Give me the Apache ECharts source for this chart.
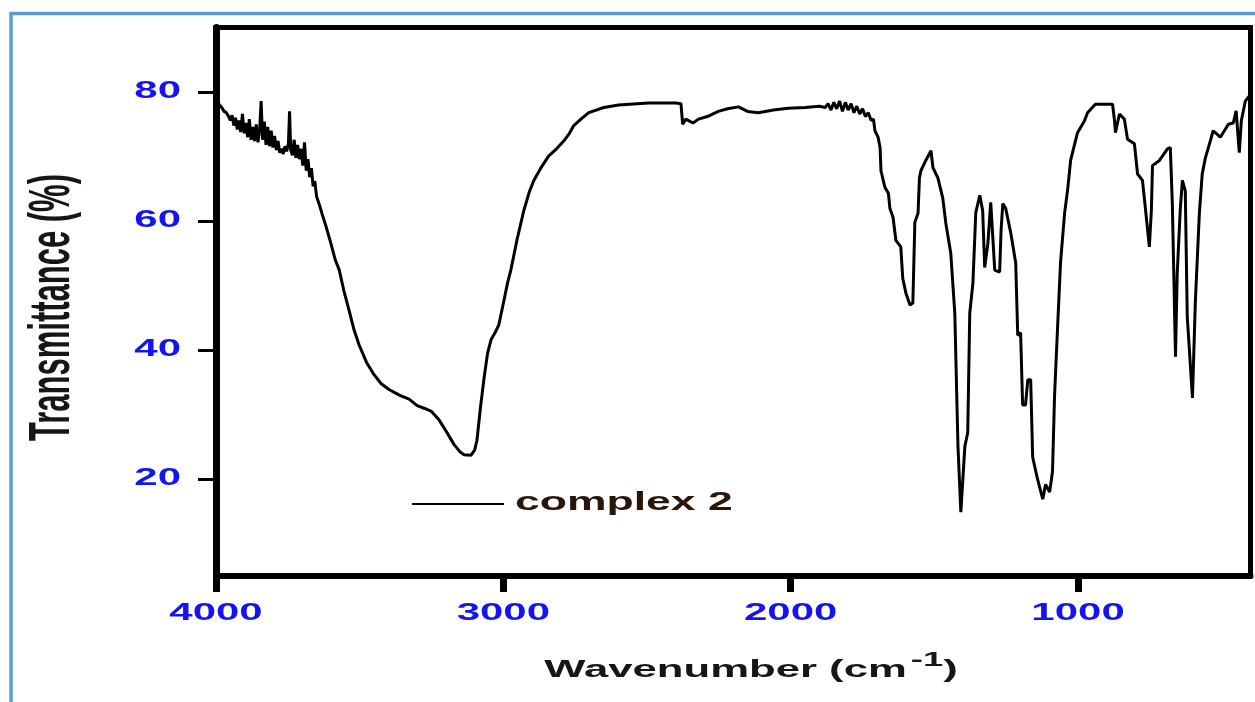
<!DOCTYPE html>
<html>
<head>
<meta charset="utf-8">
<title>IR spectrum – complex 2</title>
<script src="https://cdn.jsdelivr.net/npm/echarts@6/dist/echarts.min.js"></script>
<style>
  html, body { margin: 0; padding: 0; background: #fff; }
  #chart { width: 1255px; height: 702px; }
</style>
</head>
<body>
<div id="chart"></div>
<script>
// FT-IR spectrum of complex 2: wavenumber (cm-1) and transmittance (%)
const wavenumber = [
  3996, 3988, 3980, 3972, 3964, 3956, 3950, 3944, 3938, 3932, 3926, 3920, 3914, 3908, 3902, 3896,
  3890, 3884, 3878, 3872, 3866, 3860, 3854, 3848, 3843, 3838, 3832, 3826, 3820, 3814, 3808, 3802,
  3796, 3790, 3784, 3778, 3772, 3766, 3760, 3754, 3748, 3744, 3740, 3734, 3728, 3722, 3716, 3710,
  3704, 3698, 3692, 3686, 3680, 3674, 3668, 3662, 3656, 3650, 3640, 3630, 3616, 3600, 3585, 3571,
  3555, 3536, 3520, 3502, 3475, 3450, 3425, 3398, 3360, 3328, 3300, 3276, 3250, 3224, 3200, 3172,
  3150, 3137, 3113, 3100, 3092, 3080, 3068, 3055, 3043, 3030, 3016, 2998, 2985, 2974, 2953, 2929,
  2910, 2894, 2870, 2842, 2815, 2790, 2770, 2755, 2730, 2703, 2650, 2599, 2495, 2400, 2382, 2376,
  2365, 2340, 2321, 2290, 2252, 2220, 2182, 2150, 2113, 2060, 2009, 1950, 1900, 1880, 1870, 1860,
  1850, 1840, 1830, 1820, 1810, 1800, 1790, 1780, 1770, 1760, 1750, 1740, 1730, 1720, 1712, 1707,
  1696, 1689, 1686, 1672, 1660, 1655, 1644, 1634, 1617, 1610, 1599, 1585, 1575, 1568, 1557, 1552,
  1547, 1530, 1512, 1505, 1488, 1471, 1460, 1443, 1429, 1418, 1408, 1394, 1384, 1377, 1366, 1356,
  1342, 1332, 1325, 1314, 1304, 1290, 1273, 1268, 1262, 1252, 1234, 1217, 1210, 1200, 1193, 1183,
  1175, 1165, 1158, 1141, 1123, 1113, 1099, 1089, 1082, 1071, 1061, 1047, 1036, 1026, 1002, 978,
  967, 940, 880, 873, 870, 856, 839, 828, 804, 793, 776, 766, 752, 745, 741, 717,
  689, 679, 672, 661, 655, 644, 637, 627, 620, 602, 592, 578, 568, 557, 540, 530,
  505, 477, 460, 450, 439, 432, 418, 404
];
const transmittance = [
  78.6, 78.0, 77.6, 77.0, 76.8, 76.2, 75.6, 76.4, 74.8, 76.0, 74.2, 75.6, 73.8, 76.6, 73.6, 75.2,
  73.0, 75.8, 72.6, 74.6, 72.4, 75.0, 72.2, 74.2, 78.6, 72.6, 75.4, 71.8, 74.6, 71.6, 74.0, 71.4,
  73.2, 71.0, 72.4, 70.6, 71.2, 70.4, 71.6, 70.8, 72.0, 77.0, 71.0, 70.2, 72.6, 69.8, 71.8, 69.6,
  71.2, 68.6, 72.2, 67.8, 69.6, 66.8, 68.2, 65.4, 66.2, 63.8, 62.5, 61.0, 59.0, 56.5, 54.0, 52.4,
  49.2, 46.0, 43.2, 40.8, 38.0, 36.2, 34.8, 33.9, 33.0, 32.4, 31.4, 31.0, 30.5, 29.2, 27.5, 25.4,
  24.2, 23.8, 23.7, 24.5, 26.0, 31.0, 35.4, 39.5, 41.6, 42.6, 43.9, 47.7, 50.5, 52.4, 57.0, 61.6,
  64.5, 66.3, 68.2, 70.1, 71.2, 72.4, 73.6, 74.8, 75.8, 76.8, 77.6, 78.0, 78.3, 78.3, 78.2, 75.0,
  75.8, 75.2, 75.8, 76.2, 77.0, 77.4, 77.7, 77.0, 76.8, 77.2, 77.5, 77.6, 77.8, 77.6, 78.2, 77.2,
  78.4, 77.4, 78.6, 77.0, 78.4, 77.2, 78.2, 76.8, 77.8, 76.6, 77.4, 76.2, 76.8, 75.6, 75.8, 74.0,
  73.0, 71.4, 67.8, 65.2, 64.3, 62.0, 60.6, 57.0, 56.0, 51.1, 48.8, 47.0, 47.3, 59.8, 61.2, 66.7,
  67.8, 69.4, 70.9, 68.3, 66.7, 63.6, 59.6, 55.0, 45.7, 25.1, 14.9, 25.1, 27.2, 45.7, 50.4, 61.3,
  64.0, 61.6, 52.8, 56.5, 62.9, 52.4, 52.1, 58.5, 62.7, 62.0, 58.1, 53.5, 42.3, 42.7, 31.5, 31.5,
  35.4, 35.4, 23.4, 20.0, 16.9, 19.2, 18.0, 21.2, 32.8, 43.9, 53.6, 61.2, 65.0, 69.4, 73.7, 75.5,
  76.8, 78.1, 78.1, 75.5, 73.7, 76.6, 75.8, 72.7, 72.0, 67.3, 66.3, 62.1, 56.0, 61.6, 68.6, 69.4,
  71.2, 71.4, 62.7, 39.0, 51.9, 62.1, 66.3, 64.7, 45.1, 32.6, 47.4, 61.2, 67.3, 69.8, 72.4, 74.0,
  73.0, 75.0, 75.2, 77.1, 70.6, 75.5, 78.6, 79.4
];

const xTicks = [4000, 3000, 2000, 1000];
const yTicks = [20, 40, 60, 80];
const seriesName = 'complex 2';
const xTitle = ['Wavenumber (cm', '-1', ')'];
const yTitle = 'Transmittance (%)';

const FONT = '"Liberation Sans", Arial, Helvetica, sans-serif';
const TICK_BLUE = '#1414f2';
const STRETCH = 1.8;

const chart = echarts.init(document.getElementById('chart'), null, { renderer: 'canvas' });

const option = {
  backgroundColor: '#ffffff',
  animation: false,
  grid: {
    left: 216, right: 4.5, top: 27.5, bottom: 126,
    show: true, borderColor: '#000', borderWidth: 5, backgroundColor: 'transparent'
  },
  xAxis: {
    type: 'value', min: 400, max: 4000, inverse: true,
    axisLine: { show: true, onZero: false, lineStyle: { color: '#000', width: 6 } },
    axisTick: { show: true, customValues: xTicks, length: 16, lineStyle: { color: '#000', width: 7 } },
    axisLabel: { show: false },
    splitLine: { show: false }
  },
  yAxis: {
    type: 'value', min: 5, max: 90,
    axisLine: { show: true, onZero: false, lineStyle: { color: '#000', width: 7 } },
    axisTick: { show: true, customValues: yTicks, length: 18, lineStyle: { color: '#000', width: 3 } },
    axisLabel: { show: false },
    splitLine: { show: false }
  },
  series: [{
    name: seriesName,
    type: 'line',
    data: wavenumber.map((w, i) => [w, transmittance[i]]),
    symbol: 'none',
    showSymbol: false,
    lineStyle: { color: '#000', width: 3 },
    z: 3
  }]
};
chart.setOption(option);

// Stretched bold lettering for tick labels, titles and the legend
const measureCtx = document.createElement('canvas').getContext('2d');
function textWidth(str, size) {
  measureCtx.font = 'bold ' + size + 'px ' + FONT;
  return measureCtx.measureText(str).width;
}
function label(text, x, y, o) {
  const align = o.align || 'center';
  const valign = o.valign || 'middle';
  return {
    type: 'text', x: x, y: y, z: 20, silent: true,
    rotation: o.rotation || 0,
    scaleX: o.scaleX == null ? STRETCH : o.scaleX,
    scaleY: o.scaleY == null ? 1 : o.scaleY,
    style: {
      text: text, fill: o.color || '#111',
      font: 'bold ' + o.size + 'px ' + FONT,
      textAlign: align, textVerticalAlign: valign,
      align: align, verticalAlign: valign
    }
  };
}

const gridLeftPx = chart.convertToPixel({ xAxisIndex: 0 }, 4000);
const gridBottomPx = chart.convertToPixel({ yAxisIndex: 0 }, 5);
const graphics = [];

// page frame
graphics.push({
  type: 'rect', z: 0, silent: true,
  shape: { x: 11, y: 13.5, width: 1400, height: 900 },
  style: { fill: 'none', stroke: '#5b9bd5', lineWidth: 3.5 }
});

xTicks.forEach(v => {
  const px = chart.convertToPixel({ xAxisIndex: 0 }, v);
  graphics.push(label(String(v), px, gridBottomPx + 37, { size: 24, color: TICK_BLUE, scaleX: 1.75 }));
});
yTicks.forEach(v => {
  const py = chart.convertToPixel({ yAxisIndex: 0 }, v);
  graphics.push(label(String(v), gridLeftPx - 35, py - 1, { size: 24, color: TICK_BLUE, align: 'right', scaleX: 1.75 }));
});

// x-axis title with superscript
const TS = 1.82;
const wMain = textWidth(xTitle[0], 24) * TS;
const wSup = textWidth(xTitle[1], 20) * TS;
const wEnd = textWidth(xTitle[2], 24) * TS;
const gap = 4;
let tx = 751 - (wMain + gap + wSup + wEnd) / 2;
graphics.push(label(xTitle[0], tx, 670, { size: 24, align: 'left', scaleX: TS, color: '#161616' }));
tx += wMain + gap;
graphics.push(label(xTitle[1], tx, 660, { size: 20, align: 'left', scaleX: TS, color: '#161616' }));
tx += wSup;
graphics.push(label(xTitle[2], tx, 670, { size: 24, align: 'left', scaleX: TS, color: '#161616' }));

// y-axis title, rotated; its height is stretched across the page
graphics.push(label(yTitle, 53, 307.5, { size: 31, rotation: Math.PI / 2, scaleX: 1, scaleY: 1.85, color: '#161616' }));

// legend
graphics.push({
  type: 'line', z: 20, silent: true,
  shape: { x1: 412, y1: 504, x2: 504, y2: 504 },
  style: { stroke: '#000', lineWidth: 2 }
});
graphics.push(label(seriesName, 515, 503.5, { size: 25, align: 'left', scaleX: 1.78, color: '#2a1608' }));

chart.setOption({ graphic: graphics });
</script>
</body>
</html>
